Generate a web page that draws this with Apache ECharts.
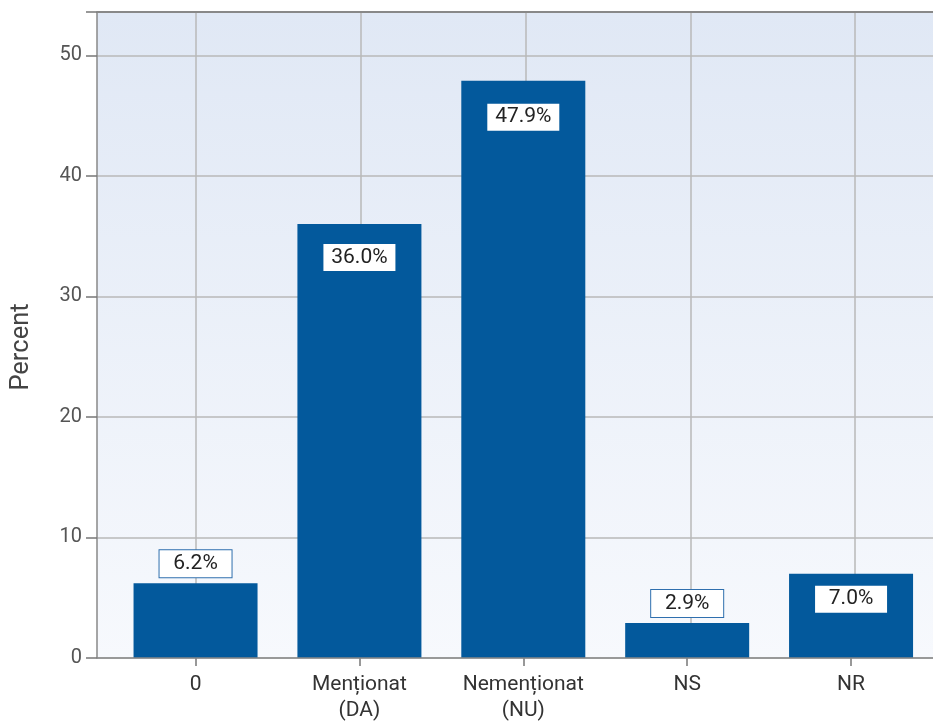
<!DOCTYPE html>
<html><head><meta charset="utf-8">
<script src="https://cdn.jsdelivr.net/npm/echarts@6/dist/echarts.min.js"></script>
<style>html,body{margin:0;padding:0;background:#fff}#c{width:933px;height:724px}</style>
</head><body><div id="c"></div>
<script>
const categories = ['0', 'Menționat\n(DA)', 'Nemenționat\n(NU)', 'NS', 'NR'];
const values = [6.2, 36.0, 47.9, 2.9, 7.0];
const yTicks = [0, 10, 20, 30, 40, 50];
const labelInside = [false, true, true, false, true];
const yAxisTitle = 'Percent';

const chart = echarts.init(document.getElementById('c'), null, {renderer: 'canvas'});
const YMAX = 53.6;
const barColor = '#03599c';
const gridColor = '#b8b8b8';
const insideDist = [0, 20, 23, 0, 12];

const seriesData = values.map((v, i) => {
  const inside = labelInside[i];
  return {
    value: v,
    label: inside ? {
      position: 'insideTop', distance: insideDist[i],
      backgroundColor: '#ffffff', borderWidth: 0
    } : {
      position: 'top', distance: 6,
      backgroundColor: '#ffffff', borderColor: '#2f6fae', borderWidth: 1
    }
  };
});

chart.setOption({
  animation: false,
  grid: [
    {left: 97, right: 0, top: 12, bottom: 66, show: true, borderWidth: 0,
     backgroundColor: new echarts.graphic.LinearGradient(0, 0, 0, 1, [
       {offset: 0, color: '#e0e8f5'}, {offset: 1, color: '#f7f9fd'}])},
    {left: 113.6, right: -4.4, top: 12, bottom: 66},
    {left: 196, right: 78, top: 12, bottom: 66}
  ],
  xAxis: [
    {gridIndex: 0, type: 'value', min: 0, max: 1, show: true,
     axisLine: {show: false}, axisTick: {show: false}, axisLabel: {show: false}, splitLine: {show: false}},
    {gridIndex: 1, type: 'category', data: categories, boundaryGap: true,
     axisLine: {show: false},
     axisTick: {show: true, alignWithLabel: true, length: 8, lineStyle: {color: '#777', width: 1.5}},
     axisLabel: {color: '#333', fontFamily: 'Roboto', fontSize: 21, lineHeight: 26, margin: 14},
     splitLine: {show: false}},
    {gridIndex: 2, type: 'category', data: categories, boundaryGap: false,
     axisLine: {show: false}, axisTick: {show: false}, axisLabel: {show: false},
     splitLine: {show: true, interval: 0, lineStyle: {color: gridColor, width: 1.5}}}
  ],
  yAxis: [
    {gridIndex: 0, type: 'value', min: 0, max: YMAX, interval: 10,
     axisLine: {show: true, lineStyle: {color: '#888', width: 1.5}},
     axisTick: {show: true, length: 11, lineStyle: {color: '#777', width: 1.5}},
     axisLabel: {color: '#555', fontFamily: 'Roboto', fontSize: 20, margin: 15,
       formatter: v => yTicks.includes(v) ? String(v) : ''},
     splitLine: {show: true, lineStyle: {color: gridColor, width: 1.5}}},
    {gridIndex: 1, type: 'value', min: 0, max: YMAX, show: false},
    {gridIndex: 2, type: 'value', min: 0, max: YMAX, show: false}
  ],
  graphic: [
    {type: 'line', shape: {x1: 97, y1: 12, x2: 933, y2: 12}, style: {stroke: '#888', lineWidth: 2}, z: 10},
    {type: 'line', shape: {x1: 97, y1: 658, x2: 933, y2: 658}, style: {stroke: '#888', lineWidth: 1.5}, z: 10},
    {type: 'text', x: 22, y: 347, rotation: Math.PI / 2,
     style: {text: yAxisTitle, fill: '#444', font: '25.5px Roboto', align: 'center', verticalAlign: 'middle'}}
  ],
  series: [{
    type: 'bar', xAxisIndex: 1, yAxisIndex: 1, data: seriesData,
    barWidth: 124, itemStyle: {color: barColor},
    label: {show: true, color: '#222', fontFamily: 'Roboto', fontSize: 21,
      width: 56, align: 'center',
      padding: [3, 8, 3, 8], formatter: p => p.value.toFixed(1) + '%'},
    z: 3
  }]
});
</script></body></html>
